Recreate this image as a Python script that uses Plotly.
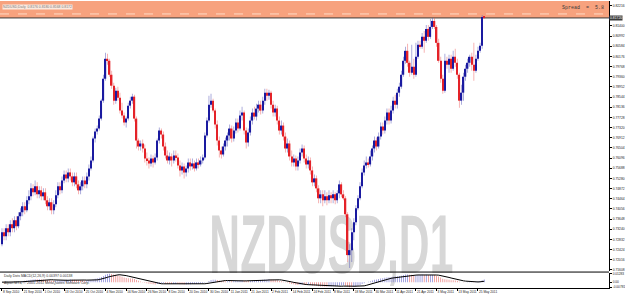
import plotly.graph_objects as go
import pandas as pd

# ---------------- data (NZDUSD, D1) ----------------
open_ = [0.7264,0.7312,0.7296,0.7328,0.7312,0.7344,0.7328,0.7360,0.7336,0.7376,
0.7392,0.7416,0.7400,0.7440,0.7456,0.7488,0.7472,0.7496,0.7464,0.7480,
0.7456,0.7472,0.7440,0.7416,0.7432,0.7400,0.7424,0.7460,0.7496,0.7480,
0.7520,0.7544,0.7528,0.7552,0.7536,0.7512,0.7536,0.7504,0.7480,0.7496,
0.7520,0.7504,0.7536,0.7568,0.7600,0.7688,0.7716,0.7728,0.7768,0.7840,
0.7928,0.8008,0.8000,0.7944,0.7900,0.7840,0.7880,0.7852,0.7800,0.7780,
0.7752,0.7768,0.7820,0.7840,0.7856,0.7768,0.7680,0.7656,0.7668,0.7648,
0.7608,0.7600,0.7588,0.7608,0.7592,0.7612,0.7680,0.7720,0.7704,0.7656,
0.7620,0.7600,0.7616,0.7600,0.7620,0.7612,0.7580,0.7560,0.7576,0.7552,
0.7568,0.7592,0.7576,0.7588,0.7568,0.7592,0.7584,0.7600,0.7612,0.7700,
0.7760,0.7824,0.7840,0.7800,0.7744,0.7680,0.7640,0.7624,0.7656,0.7680,
0.7700,0.7728,0.7688,0.7720,0.7752,0.7728,0.7780,0.7792,0.7720,0.7672,
0.7712,0.7760,0.7792,0.7776,0.7808,0.7824,0.7800,0.7840,0.7872,0.7860,
0.7872,0.7824,0.7792,0.7808,0.7760,0.7720,0.7740,0.7696,0.7648,0.7668,
0.7616,0.7592,0.7608,0.7576,0.7600,0.7632,0.7648,0.7608,0.7584,0.7600,
0.7560,0.7512,0.7528,0.7488,0.7448,0.7464,0.7440,0.7456,0.7440,0.7460,
0.7448,0.7464,0.7440,0.7468,0.7504,0.7464,0.7448,0.7384,0.7220,0.7240,
0.7312,0.7352,0.7408,0.7448,0.7496,0.7552,0.7580,0.7592,0.7584,0.7616,
0.7648,0.7680,0.7656,0.7696,0.7736,0.7720,0.7760,0.7792,0.7760,0.7800,
0.7840,0.7824,0.7872,0.7896,0.7944,0.8000,0.8040,0.7992,0.7952,0.7976,
0.7944,0.8016,0.8064,0.8056,0.8096,0.8080,0.8128,0.8096,0.8136,0.8160,
0.8136,0.8072,0.8000,0.7928,0.7880,0.8000,0.7984,0.8008,0.7968,0.8016,
0.7992,0.7944,0.7840,0.7872,0.7936,0.7968,0.7992,0.8016,0.7984,0.7960,
0.8008,0.8040,0.8060,0.8176]

high = [0.7328,0.7328,0.7344,0.7344,0.7360,0.7368,0.7376,0.7376,0.7392,0.7408,
0.7432,0.7432,0.7456,0.7480,0.7508,0.7504,0.7520,0.7512,0.7496,0.7496,
0.7488,0.7488,0.7456,0.7448,0.7448,0.7440,0.7480,0.7512,0.7512,0.7536,
0.7560,0.7560,0.7568,0.7568,0.7552,0.7552,0.7552,0.7520,0.7512,0.7536,
0.7536,0.7552,0.7584,0.7616,0.7696,0.7728,0.7740,0.7780,0.7848,0.7944,
0.8032,0.8028,0.8008,0.7960,0.7912,0.7892,0.7896,0.7872,0.7832,0.7792,
0.7776,0.7832,0.7856,0.7868,0.7864,0.7776,0.7688,0.7680,0.7684,0.7664,
0.7632,0.7612,0.7624,0.7620,0.7628,0.7688,0.7732,0.7728,0.7716,0.7672,
0.7640,0.7632,0.7628,0.7640,0.7640,0.7628,0.7600,0.7592,0.7588,0.7580,
0.7608,0.7608,0.7608,0.7600,0.7608,0.7608,0.7616,0.7624,0.7712,0.7772,
0.7860,0.7868,0.7848,0.7808,0.7760,0.7696,0.7656,0.7668,0.7692,0.7712,
0.7744,0.7740,0.7736,0.7768,0.7768,0.7800,0.7816,0.7800,0.7732,0.7728,
0.7776,0.7808,0.7816,0.7828,0.7840,0.7840,0.7856,0.7888,0.7888,0.7884,
0.7880,0.7840,0.7824,0.7820,0.7776,0.7760,0.7752,0.7712,0.7688,0.7680,
0.7640,0.7624,0.7620,0.7616,0.7648,0.7664,0.7660,0.7624,0.7616,0.7612,
0.7576,0.7544,0.7540,0.7500,0.7480,0.7480,0.7480,0.7472,0.7480,0.7472,
0.7480,0.7472,0.7480,0.7520,0.7512,0.7480,0.7456,0.7392,0.7264,0.7328,
0.7368,0.7420,0.7460,0.7512,0.7568,0.7600,0.7616,0.7608,0.7640,0.7660,
0.7696,0.7692,0.7712,0.7752,0.7752,0.7776,0.7808,0.7808,0.7820,0.7856,
0.7864,0.7888,0.7912,0.7960,0.8016,0.8056,0.8068,0.8000,0.8064,0.8008,
0.8072,0.8080,0.8080,0.8112,0.8120,0.8144,0.8144,0.8168,0.8172,0.8172,
0.8144,0.8088,0.8016,0.7944,0.8028,0.8016,0.8024,0.8024,0.8040,0.8048,
0.8008,0.7952,0.7904,0.7952,0.7984,0.8008,0.8024,0.8032,0.8072,0.8024,
0.8056,0.8072,0.8184,0.8180]

low = [0.7256,0.7280,0.7280,0.7296,0.7296,0.7312,0.7312,0.7320,0.7328,0.7360,
0.7376,0.7384,0.7392,0.7424,0.7440,0.7456,0.7460,0.7448,0.7448,0.7440,
0.7440,0.7424,0.7400,0.7400,0.7384,0.7384,0.7412,0.7448,0.7464,0.7468,
0.7508,0.7512,0.7512,0.7520,0.7496,0.7496,0.7488,0.7464,0.7464,0.7480,
0.7488,0.7488,0.7520,0.7560,0.7592,0.7672,0.7704,0.7720,0.7760,0.7832,
0.7920,0.7984,0.7936,0.7888,0.7824,0.7828,0.7840,0.7788,0.7768,0.7740,
0.7732,0.7760,0.7808,0.7828,0.7756,0.7648,0.7640,0.7640,0.7632,0.7592,
0.7580,0.7568,0.7576,0.7572,0.7584,0.7600,0.7668,0.7688,0.7640,0.7608,
0.7588,0.7584,0.7576,0.7588,0.7596,0.7568,0.7536,0.7544,0.7528,0.7536,
0.7552,0.7560,0.7564,0.7556,0.7560,0.7568,0.7576,0.7588,0.7604,0.7692,
0.7752,0.7812,0.7792,0.7728,0.7660,0.7612,0.7608,0.7616,0.7640,0.7656,
0.7680,0.7672,0.7676,0.7708,0.7712,0.7720,0.7760,0.7704,0.7648,0.7656,
0.7700,0.7744,0.7764,0.7760,0.7792,0.7784,0.7788,0.7824,0.7840,0.7844,
0.7808,0.7776,0.7776,0.7744,0.7704,0.7704,0.7680,0.7632,0.7632,0.7600,
0.7576,0.7576,0.7560,0.7560,0.7588,0.7616,0.7592,0.7568,0.7568,0.7544,
0.7496,0.7496,0.7472,0.7428,0.7428,0.7416,0.7428,0.7420,0.7428,0.7428,
0.7428,0.7424,0.7428,0.7448,0.7452,0.7440,0.7372,0.7192,0.7168,0.7192,
0.7280,0.7340,0.7400,0.7440,0.7488,0.7540,0.7568,0.7572,0.7576,0.7600,
0.7632,0.7640,0.7648,0.7684,0.7704,0.7708,0.7744,0.7744,0.7748,0.7788,
0.7808,0.7808,0.7856,0.7888,0.7936,0.7988,0.7976,0.7936,0.7944,0.7928,
0.7936,0.8008,0.8048,0.8048,0.8032,0.8072,0.8080,0.8088,0.8128,0.8128,
0.8056,0.7992,0.7912,0.7868,0.7872,0.7968,0.7952,0.7952,0.7960,0.7976,
0.7928,0.7812,0.7824,0.7840,0.7920,0.7952,0.7976,0.7960,0.7920,0.7952,
0.8000,0.8032,0.8048,0.8168]

close = [0.7312,0.7296,0.7328,0.7312,0.7344,0.7328,0.7360,0.7336,0.7376,0.7392,
0.7416,0.7400,0.7440,0.7456,0.7488,0.7472,0.7496,0.7464,0.7480,0.7456,
0.7472,0.7440,0.7416,0.7432,0.7400,0.7424,0.7460,0.7496,0.7480,0.7520,
0.7544,0.7528,0.7552,0.7536,0.7512,0.7536,0.7504,0.7480,0.7496,0.7520,
0.7504,0.7536,0.7568,0.7600,0.7688,0.7716,0.7728,0.7768,0.7840,0.7928,
0.8008,0.8000,0.7944,0.7900,0.7840,0.7880,0.7852,0.7800,0.7780,0.7752,
0.7768,0.7820,0.7840,0.7856,0.7768,0.7680,0.7656,0.7668,0.7648,0.7608,
0.7600,0.7588,0.7608,0.7592,0.7612,0.7680,0.7720,0.7704,0.7656,0.7620,
0.7600,0.7616,0.7600,0.7620,0.7612,0.7580,0.7560,0.7576,0.7552,0.7568,
0.7592,0.7576,0.7588,0.7568,0.7592,0.7584,0.7600,0.7612,0.7700,0.7760,
0.7824,0.7840,0.7800,0.7744,0.7680,0.7640,0.7624,0.7656,0.7680,0.7700,
0.7728,0.7688,0.7720,0.7752,0.7728,0.7780,0.7792,0.7720,0.7672,0.7712,
0.7760,0.7792,0.7776,0.7808,0.7824,0.7800,0.7840,0.7872,0.7860,0.7872,
0.7824,0.7792,0.7808,0.7760,0.7720,0.7740,0.7696,0.7648,0.7668,0.7616,
0.7592,0.7608,0.7576,0.7600,0.7632,0.7648,0.7608,0.7584,0.7600,0.7560,
0.7512,0.7528,0.7488,0.7448,0.7464,0.7440,0.7456,0.7440,0.7460,0.7448,
0.7464,0.7440,0.7468,0.7504,0.7464,0.7448,0.7384,0.7220,0.7240,0.7312,
0.7352,0.7408,0.7448,0.7496,0.7552,0.7580,0.7592,0.7584,0.7616,0.7648,
0.7680,0.7656,0.7696,0.7736,0.7720,0.7760,0.7792,0.7760,0.7800,0.7840,
0.7824,0.7872,0.7896,0.7944,0.8000,0.8040,0.7992,0.7952,0.7976,0.7944,
0.8016,0.8064,0.8056,0.8096,0.8080,0.8128,0.8096,0.8136,0.8160,0.8136,
0.8072,0.8000,0.7928,0.7880,0.8000,0.7984,0.8008,0.7968,0.8016,0.7992,
0.7944,0.7840,0.7872,0.7936,0.7968,0.7992,0.8016,0.7984,0.7960,0.8008,
0.8040,0.8060,0.8176,0.8172]

# time-axis labels (one every 10 bars)
label_bars = [0, 10, 20, 30, 40, 50, 60, 70, 80, 90, 100, 110, 120, 130, 140,
              150, 160, 170, 180, 190, 200, 210, 220, 230]
time_labels = ["8 Sep 2010", "21 Sep 2010", "1 Oct 2010", "13 Oct 2010", "25 Oct 2010",
               "4 Nov 2010", "16 Nov 2010", "26 Nov 2010", "8 Dec 2010", "20 Dec 2010",
               "30 Dec 2010", "11 Jan 2011", "21 Jan 2011", "2 Feb 2011", "14 Feb 2011",
               "24 Feb 2011", "8 Mar 2011", "18 Mar 2011", "30 Mar 2011", "11 Apr 2011",
               "21 Apr 2011", "3 May 2011", "13 May 2011", "25 May 2011"]

# price-axis labels
price_ticks = [0.82216, 0.81400, 0.80992, 0.80584, 0.80176, 0.79768, 0.79360,
               0.78952, 0.78544, 0.78136, 0.77728, 0.77320, 0.76912, 0.76504,
               0.76096, 0.75688, 0.75280, 0.74872, 0.74464, 0.74056, 0.73648,
               0.73240, 0.72832, 0.72424, 0.72016, 0.71608]
spread_text = "5.8"
watermark = "NZDUSD,D1"

# ---------------- derived ----------------
n = len(close)
idx = list(range(n))
up = [c >= o for o, c in zip(open_, close)]
body_base = [min(o, c) for o, c in zip(open_, close)]
body_len = [abs(c - o) for o, c in zip(open_, close)]
wick_len = [h - l for h, l in zip(high, low)]

s = pd.Series(close)
macd = s.ewm(span=12, adjust=False).mean() - s.ewm(span=26, adjust=False).mean()
signal = macd.rolling(9, min_periods=1).mean()
macd_col = ["rgba(60,60,190,0.75)" if i == 0 or macd[i] >= macd[i - 1]
            else "rgba(225,60,60,0.75)" for i in range(n)]

BODY_UP, BODY_DN = "#1a1aa0", "#e42228"
WICK_UP, WICK_DN = "rgba(90,90,185,0.6)", "rgba(235,90,90,0.55)"

W, H = 625, 295
MT, MB = 0, 7
PH = H - MT - MB                     # plot height in px
def py(px):                          # px from top of plot area -> paper
    return 1 - px / PH

P_TOP, P_BOT = 0.8240, 0.7156
FONT = "Liberation Sans, Arial, sans-serif"

fig = go.Figure()
fig.add_trace(go.Bar(x=idx, base=low, y=wick_len, width=0.4,
                     marker=dict(color=[WICK_UP if u else WICK_DN for u in up], line=dict(width=0)),
                     xaxis="x", yaxis="y", hoverinfo="skip"))
fig.add_trace(go.Bar(x=idx, base=body_base, y=body_len, width=0.7,
                     marker=dict(color=[BODY_UP if u else BODY_DN for u in up], line=dict(width=0)),
                     xaxis="x", yaxis="y", hoverinfo="skip"))
fig.add_trace(go.Bar(x=idx, y=macd, width=0.3,
                     marker=dict(color=macd_col, line=dict(width=0)),
                     xaxis="x", yaxis="y2", hoverinfo="skip"))
fig.add_trace(go.Scatter(x=idx, y=signal, mode="lines", line=dict(color="black", width=1),
                         xaxis="x", yaxis="y2", hoverinfo="skip"))

shapes = [
    dict(type="rect", xref="paper", yref="y", x0=0, x1=1, y0=close[-1], y1=P_TOP,
         fillcolor="#F7A27E", line=dict(width=0), layer="below"),
    dict(type="line", xref="paper", yref="paper", x0=0, x1=1, y0=py(13), y1=py(13),
         line=dict(color="rgba(255,225,205,0.9)", width=1, dash="dash"), layer="below"),
    dict(type="line", xref="paper", yref="y", x0=0, x1=1, y0=close[-1], y1=close[-1],
         line=dict(color="#3a3a3a", width=1), layer="below"),
    dict(type="line", xref="paper", yref="paper", x0=0, x1=1, y0=py(272), y1=py(272),
         line=dict(color="#000", width=1)),
    # watermark (drawn under the candles)
    dict(type="rect", xref="paper", yref="paper", x0=210 / 612, x1=456 / 612,
         y0=py(273), y1=py(199), line=dict(width=0), fillcolor="rgba(0,0,0,0)", layer="below",
         label=dict(text=watermark, textposition="middle center",
                    font=dict(family=FONT, size=84, color="#d7d7d7", weight="bold"))),
]

annotations = [
    dict(xref="paper", yref="paper", x=609 / 612, y=py(7), xanchor="right", yanchor="middle",
         text="Spread  =  " + spread_text, showarrow=False,
         font=dict(family="Liberation Mono, monospace", size=5, color="#3a3a3a")),
    dict(xref="paper", yref="paper", x=2 / 612, y=py(6), xanchor="left", yanchor="middle",
         text="NZDUSD,Daily  %.4f %.4f %.4f %.4f" % (open_[-1], high[-1], low[-1], close[-1]),
         showarrow=False, bgcolor="#fbe9df", borderpad=0,
         font=dict(family=FONT, size=3.4, color="#777")),
    dict(xref="paper", yref="y", x=1, y=close[-1], xanchor="left", yanchor="middle",
         text="%.5f" % close[-1], showarrow=False, bgcolor="#3a3a3a", borderpad=0,
         font=dict(family=FONT, size=3.4, color="#fff")),
    dict(xref="paper", yref="paper", x=2 / 612, y=py(276), xanchor="left", yanchor="middle",
         text="Daily Dots MACD(12,26,9) %.5f %.5f" % (macd.iloc[-1], signal.iloc[-1]),
         showarrow=False, font=dict(family=FONT, size=3.5, color="#333")),
    dict(xref="paper", yref="paper", x=2 / 612, y=py(283), xanchor="left", yanchor="middle",
         text="Alpari MT4, © 2001-2011 MetaQuotes Software Corp.",
         showarrow=False, font=dict(family=FONT, size=3.6, color="#333")),
]

hist_max, hist_min = float(macd.max()), float(macd.min())

fig.update_layout(
    width=W, height=H, margin=dict(l=0, r=13, t=MT, b=MB, pad=0),
    paper_bgcolor="white", plot_bgcolor="white", showlegend=False, barmode="overlay",
    font=dict(family=FONT, color="#333"),
    xaxis=dict(domain=[0, 1], range=[-0.96, 293.3], anchor="y2", tickvals=label_bars,
               ticktext=time_labels, ticks="outside", ticklen=2, tickwidth=1, tickcolor="#000",
               ticklabelposition="outside right", tickangle=0,
               tickfont=dict(family=FONT, size=3.2, color="#222"),
               showgrid=False, zeroline=False, showline=True, linecolor="#000", linewidth=1),
    yaxis=dict(domain=[py(271), 1], range=[P_BOT, P_TOP], side="right", anchor="x",
               tickvals=price_ticks, ticktext=["%.5f" % v for v in price_ticks],
               ticks="outside", ticklen=2, tickcolor="#000",
               tickfont=dict(family=FONT, size=3.3, color="#222"),
               showgrid=False, zeroline=False, showline=True, linecolor="#000", linewidth=1),
    yaxis2=dict(domain=[0, py(273)], side="right", anchor="x",
                tickvals=[hist_max, 0, hist_min],
                ticktext=["%.5f" % hist_max, "0.00", "%.5f" % hist_min],
                ticks="outside", ticklen=2, tickcolor="#000",
                tickfont=dict(family=FONT, size=3.2, color="#222"),
                showgrid=False, zeroline=False, showline=True, linecolor="#000", linewidth=1),
    shapes=shapes, annotations=annotations,
)

# squeeze the watermark horizontally to the narrow width it has in the screenshot
squeeze_js = """
var gd = document.getElementById('{plot_id}');
gd.querySelectorAll('text').forEach(function (el) {
  if (el.textContent !== '%s') return;
  var b = el.getBBox();
  var cx = b.x + b.width / 2, cy = b.y + b.height / 2;
  var sx = %f / b.width;
  var t = el.getAttribute('transform') || '';
  el.setAttribute('transform', 'translate(' + cx + ',' + cy + ') scale(' + sx + ',1) translate(' +
                  (-cx) + ',' + (-cy) + ') ' + t);
});
""" % (watermark, 244.0)

fig.write_html("out.html", post_script=squeeze_js)
